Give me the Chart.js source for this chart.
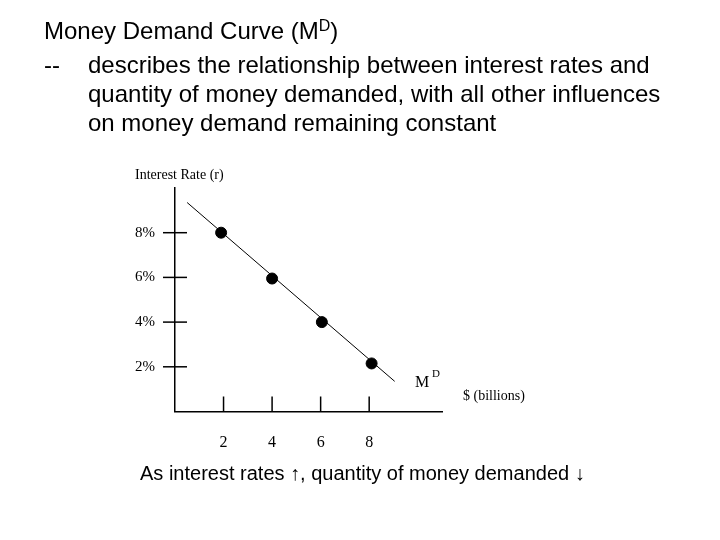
<!DOCTYPE html>
<html>
<head>
<meta charset="utf-8">
<script src="https://cdn.jsdelivr.net/npm/chart.js"></script>
<style>
  body { margin: 0; background: #fff; }
  #wrap { position: relative; width: 720px; height: 540px; overflow: hidden; }
  #c { position: absolute; left: 0; top: 0; }
  .txt { position: absolute; font-family: "Liberation Sans", Arial, sans-serif; color: #000; white-space: nowrap; }
  .big { font-size: 24px; line-height: 29px; }
  sup { font-size: 16px; vertical-align: 8px; line-height: 0; }
</style>
</head>
<body>
<div id="wrap">
  <canvas id="c" width="720" height="540"></canvas>
  <div class="txt big" style="left:44px; top:16px;">Money Demand Curve (M<sup>D</sup>)</div>
  <div class="txt big" style="left:44px; top:50px;">--</div>
  <div class="txt big" style="left:88px; top:50px;">describes the relationship between interest rates and<br>quantity of money demanded, with all other influences<br>on money demand remaining constant</div>
  <div class="txt" style="left:140px; top:462px; font-size:20px;">As interest rates &#8593;, quantity of money demanded &#8595;</div>
</div>
<script>
// dữ liệu
const xTicks = [2, 4, 6, 8];
const yTicks = [2, 4, 6, 8];
const quantity = [1.9, 4.0, 6.05, 8.1];
const rate = [8.0, 5.95, 4.0, 2.15];
const curveX = [0.5, 9.05];
const curveY = [9.35, 1.35];

const serif = '"Liberation Serif", "Times New Roman", serif';

// vạch chia tự vẽ: trục y cắt ngang trục, trục x chỉ hướng lên
const tickMarks = {
  id: 'tickMarks',
  afterDraw(chart) {
    const ctx = chart.ctx, xs = chart.scales.x, ys = chart.scales.y;
    const x0 = xs.getPixelForValue(0), y0 = ys.getPixelForValue(0);
    ctx.save();
    ctx.strokeStyle = '#000';
    ctx.lineWidth = 1.5;
    yTicks.forEach(v => {
      const py = ys.getPixelForValue(v);
      ctx.beginPath(); ctx.moveTo(x0 - 12, py); ctx.lineTo(x0 + 12, py); ctx.stroke();
    });
    xTicks.forEach(v => {
      const px = xs.getPixelForValue(v);
      ctx.beginPath(); ctx.moveTo(px, y0); ctx.lineTo(px, y0 - 15); ctx.stroke();
    });
    // nhãn trục
    ctx.fillStyle = '#000';
    ctx.font = '14px ' + serif;
    ctx.textBaseline = 'middle';
    ctx.fillText('Interest Rate (r)', 135, 175);
    ctx.fillText('$ (billions)', 463, 396);
    ctx.font = '16px ' + serif;
    ctx.fillText('M', 415, 383);
    ctx.font = '11px ' + serif;
    ctx.fillText('D', 432, 374);
    ctx.restore();
  }
};

new Chart(document.getElementById('c'), {
  type: 'scatter',
  data: {
    datasets: [
      {
        type: 'line',
        data: curveX.map((x, i) => ({ x, y: curveY[i] })),
        borderColor: '#000',
        borderWidth: 1,
        pointRadius: 0,
        fill: false
      },
      {
        data: quantity.map((x, i) => ({ x, y: rate[i] })),
        backgroundColor: '#000',
        borderColor: '#000',
        pointRadius: 5.5
      }
    ]
  },
  options: {
    responsive: false,
    animation: false,
    layout: { padding: { top: 188, right: 278, left: 0, bottom: 0 } },
    plugins: { legend: { display: false }, tooltip: { enabled: false } },
    scales: {
      x: {
        type: 'linear', min: 0, max: 11,
        afterBuildTicks: s => { s.ticks = xTicks.map(v => ({ value: v })); },
        afterFit: s => { s.height = 128.5; },
        grid: { display: false },
        border: { color: '#000', width: 1.5 },
        ticks: { color: '#000', padding: 14, font: { family: serif, size: 16 } }
      },
      y: {
        type: 'linear', min: 0, max: 10,
        afterBuildTicks: s => { s.ticks = yTicks.map(v => ({ value: v })); },
        afterFit: s => { s.width = 175; },
        grid: { display: false },
        border: { color: '#000', width: 1.5 },
        ticks: { color: '#000', padding: 12, font: { family: serif, size: 15 }, callback: v => v + '%' }
      }
    }
  },
  plugins: [tickMarks]
});
</script>
</body>
</html>
